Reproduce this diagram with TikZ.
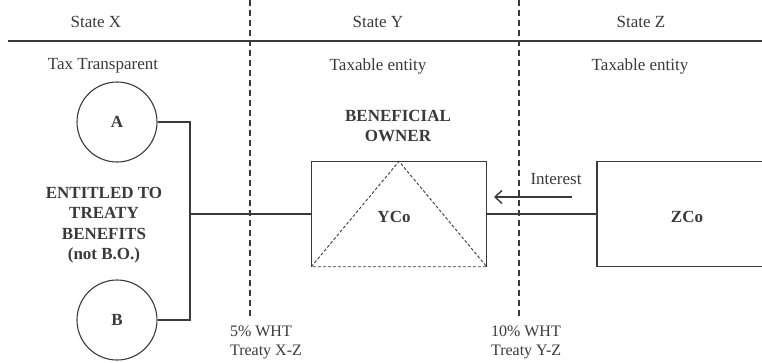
\documentclass[tikz,border=0pt]{standalone}
\usepackage{fontspec}
\setmainfont{Liberation Serif}
\usepackage{tikz}
\usetikzlibrary{arrows.meta}
\definecolor{ink}{HTML}{3A3A3A}

\begin{document}
\begin{tikzpicture}[x=1pt, y=-1pt, line width=1.4pt, draw=ink, text=ink,
		font=\fontsize{17}{20.5}\selectfont,
		party/.style={circle, draw, line width=1.1pt, minimum size=80pt, font=\fontsize{17}{20}\selectfont\bfseries},
		cobox/.style={rectangle, minimum width=174pt, minimum height=104pt, font=\fontsize{17}{20}\selectfont\bfseries},
		note/.style={align=center, font=\fontsize{17}{20.5}\selectfont\bfseries},
		divider/.style={dashed, line width=1.1pt, dash pattern=on 6pt off 4pt}]
				\useasboundingbox (0,0) rectangle (762,362);
				\clip (0,0) rectangle (762,362);
				% header
				\draw (8,41) -- (762,41);
				\foreach \x in {250,519} {
					\draw[divider] (\x,0) -- (\x,318);
				}
				\node (sx) at (96,22) {State X};
				\node (sy) at (378,22) {State Y};
				\node (sz) at (641,22) {State Z};
				\node (tx) at (103,66) {Tax Transparent};
				\node (ty) at (378,66) {Taxable entity};
				\node (tz) at (640,66) {Taxable entity};
				% parties
				\node[party] (a) at (117,122) {A};
				\node[party] (b) at (117,320) {B};
				\node[note] (ent) at (104,225) {ENTITLED TO\\TREATY\\BENEFITS\\(not B.O.)};
				\node[note] (bo) at (398,126) {BENEFICIAL\\OWNER};
				\node[cobox] (yco) at (399,214) {\phantom{YCo}};
				\node[font=\fontsize{17}{20}\selectfont\bfseries] (ylab) at (394,217) {YCo};
				\node[cobox, anchor=west] (zco) at (597,214) {};
				\node[font=\fontsize{17}{20}\selectfont\bfseries] (zlab) at (687,217) {ZCo};
				\draw (yco.south west) |- (yco.north east) -- (yco.south east);
				\draw[dashed, line width=.9pt, dash pattern=on 3pt off 2pt] (yco.south west) -- (yco.north) -- (yco.south east) -- cycle;
				\draw (zco.south east) -- (zco.south west) -- (zco.north west) -- (zco.north east);
				% links
				\coordinate (jn) at (190,214);
				\draw (a.east) -| (jn) |- (b.east);
				\draw (jn) -- (yco.west);
				\draw (yco.east) -- (zco.west);
				\coordinate (p0) at (572,197);
				\coordinate (p1) at (494,197);
				\draw[-{Straight Barb[length=7pt, width=13pt]}] (p0) -- (p1);
				\node (int) at (556,179) {Interest};
				% treaties
				\node[align=left, anchor=west, font=\fontsize{16}{19}\selectfont] (wx) at (226,342) {5\% WHT\\Treaty X-Z};
				\node[align=left, anchor=west, font=\fontsize{16}{19}\selectfont] (wy) at (487,342) {10\% WHT\\Treaty Y-Z};
			\end{tikzpicture}
\end{document}
